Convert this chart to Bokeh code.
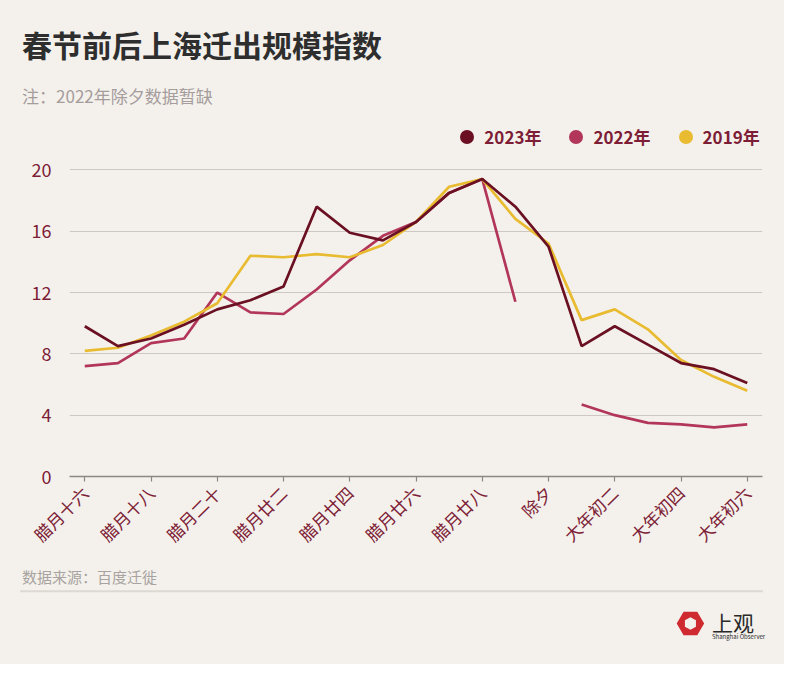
import math
from bokeh.plotting import figure
from bokeh.layouts import column
from bokeh.models import (Range1d, FixedTicker, Label, Legend, LegendItem,
                          PolyAnnotation, BoxAnnotation)
from bokeh.embed import file_html
from bokeh.resources import INLINE

# ---------------- data ----------------
days = ["腊月十六", "腊月十七", "腊月十八", "腊月十九", "腊月二十", "腊月廿一",
        "腊月廿二", "腊月廿三", "腊月廿四", "腊月廿五", "腊月廿六", "腊月廿七",
        "腊月廿八", "腊月廿九", "除夕", "大年初一", "大年初二", "大年初三",
        "大年初四", "大年初五", "大年初六"]
tick_idx = [0, 2, 4, 6, 8, 10, 12, 14, 16, 18, 20]
y_ticks = [0, 4, 8, 12, 16, 20]

v2023 = [9.8, 8.5, 9.0, 9.9, 10.9, 11.5, 12.4, 17.6, 15.9, 15.4, 16.6,
         18.5, 19.4, 17.6, 15.0, 8.5, 9.8, 8.6, 7.4, 7.0, 6.1]
v2022 = [7.2, 7.4, 8.7, 9.0, 12.0, 10.7, 10.6, 12.2, 14.1, 15.7, 16.6,
         18.5, 19.4, 11.4, float("nan"), 4.7, 4.0, 3.5, 3.4, 3.2, 3.4]
v2019 = [8.2, 8.4, 9.2, 10.1, 11.3, 14.4, 14.3, 14.5, 14.3, 15.1, 16.6,
         18.9, 19.4, 16.8, 15.2, 10.2, 10.9, 9.6, 7.6, 6.5, 5.6]
series_names = ["2023年", "2022年", "2019年"]

title_text = "春节前后上海迁出规模指数"
note_text = "注：2022年除夕数据暂缺"
source_text = "数据来源：百度迁徙"

# ---------------- style ----------------
BG = "#f4f1ec"
MAROON = "#7d1d36"
C2023 = "#6a1022"
C2022 = "#b2365a"
C2019 = "#e8bb30"
FONT = "Noto Sans CJK SC"

W, H = 784, 664
SX, SY = W / 800.0, H / 680.0


def fx(rx):
    return rx * SX


def fy(ry):
    return ry * SY


def blank_fig(height):
    f = figure(width=W, height=height, output_backend="svg", toolbar_location=None,
               x_axis_type=None, y_axis_type=None,
               x_range=Range1d(0, W), y_range=Range1d(height, 0),
               min_border=0, min_border_left=0, min_border_right=0,
               min_border_top=0, min_border_bottom=0)
    f.background_fill_color = None
    f.border_fill_color = BG
    f.outline_line_color = None
    f.grid.visible = False
    f.frame_align = False
    return f


H1 = 119
H2 = 444
H3 = H - H1 - H2

# ---------------- header ----------------
head = blank_fig(H1)
head.add_layout(Label(x=fx(22), y=fy(45), text=title_text,
                      text_font=FONT, text_font_size="30px", text_font_style="bold",
                      text_color="#2e2e2e", text_baseline="middle"))
head.add_layout(Label(x=fx(22), y=fy(97), text=note_text,
                      text_font=FONT, text_font_size="17px",
                      text_color="#a59c9c", text_baseline="middle"))

# ---------------- main chart ----------------
BL, BR, BB = 69, 22, 87
frame_w = W - BL - BR
frame_h = H2 - BB
px_per_x = 33.8 * SX
px_per_y = 15.7 * SY
x_start = (BL - fx(86)) / px_per_x
x_end = x_start + frame_w / px_per_x
y_end = frame_h / px_per_y

x = list(range(len(days)))

p = figure(width=W, height=H2, output_backend="svg", toolbar_location=None,
           x_range=Range1d(x_start, x_end), y_range=Range1d(0, y_end),
           min_border_left=BL, min_border_right=BR, min_border_top=0,
           min_border_bottom=BB)
p.background_fill_color = None
p.border_fill_color = BG
p.outline_line_color = None
p.frame_align = False

p.xaxis.ticker = FixedTicker(ticks=tick_idx)
p.xaxis.major_label_overrides = {i: days[i] for i in tick_idx}
p.xaxis.major_label_orientation = math.pi / 4
p.xaxis.major_label_text_font = FONT
p.xaxis.major_label_text_font_size = "17px"
p.xaxis.major_label_text_color = MAROON
p.xaxis.axis_line_color = "#8c8782"
p.xaxis.axis_line_width = 1.5
p.xaxis.major_tick_line_color = "#8c8782"
p.xaxis.major_tick_line_width = 1.2
p.xaxis.major_tick_out = 5
p.xaxis.major_tick_in = 0
p.xaxis.minor_tick_line_color = None
p.xaxis.major_label_standoff = 8

p.yaxis.ticker = FixedTicker(ticks=y_ticks)
p.yaxis.axis_line_color = None
p.yaxis.major_tick_line_color = None
p.yaxis.minor_tick_line_color = None
p.yaxis.major_label_text_font = FONT
p.yaxis.major_label_text_font_size = "18px"
p.yaxis.major_label_text_color = MAROON
p.yaxis.major_label_standoff = 12

p.xgrid.grid_line_color = None
p.ygrid.ticker = FixedTicker(ticks=y_ticks)
p.ygrid.grid_line_color = "#cdc8c2"
p.ygrid.grid_line_width = 1.2

p.line(x, v2022, line_color=C2022, line_width=2.7)
p.line(x, v2019, line_color=C2019, line_width=2.7)
p.line(x, v2023, line_color=C2023, line_width=2.7)

# legend-only circle renderers (a single hidden NaN point each)
nan = float("nan")
r23 = p.scatter(x=[nan], y=[nan], marker="circle", size=14, fill_color=C2023, line_color=None)
r22 = p.scatter(x=[nan], y=[nan], marker="circle", size=14, fill_color=C2022, line_color=None)
r19 = p.scatter(x=[nan], y=[nan], marker="circle", size=14, fill_color=C2019, line_color=None)
legend = Legend(items=[LegendItem(label=series_names[0], renderers=[r23]),
                       LegendItem(label=series_names[1], renderers=[r22]),
                       LegendItem(label=series_names[2], renderers=[r19])],
                orientation="horizontal",
                location=(fx(458.5) - BL, frame_h - (fy(157.5) - H1)),
                glyph_width=35, glyph_height=35, label_standoff=0, spacing=17,
                padding=0, margin=0, border_line_color=None,
                background_fill_alpha=0,
                label_text_font=FONT, label_text_font_size="17px",
                label_text_font_style="bold", label_text_color=MAROON)
p.add_layout(legend, "center")

# ---------------- footer ----------------
foot = blank_fig(H3)
top3 = H1 + H2


def fy3(ry):
    return fy(ry) - top3


foot.add_layout(Label(x=fx(22), y=fy3(590), text=source_text,
                      text_font=FONT, text_font_size="15px",
                      text_color="#a8a3a0", text_baseline="middle"))
foot.add_layout(BoxAnnotation(left=fx(20), right=fx(778), top=fy3(604), bottom=fy3(606),
                              fill_color="#dcd8d3", fill_alpha=1, line_color=None))
cx, cy = 704.0, 638.0
angles_o = [math.radians(a) for a in range(0, 360, 60)]
angles_i = [math.radians(a) for a in range(30, 390, 60)]
foot.add_layout(PolyAnnotation(xs=[fx(cx + 14 * math.cos(a)) for a in angles_o],
                               ys=[fy3(cy + 14 * math.sin(a)) for a in angles_o],
                               fill_color="#cf2a30", fill_alpha=1, line_color=None))
foot.add_layout(PolyAnnotation(xs=[fx(cx + 6.5 * math.cos(a)) for a in angles_i],
                               ys=[fy3(cy + 6.5 * math.sin(a)) for a in angles_i],
                               fill_color=BG, fill_alpha=1, line_color=None))
foot.add_layout(Label(x=fx(726), y=fy3(636), text="上观", text_font=FONT,
                      text_font_size="21px", text_color="#2a2a2a",
                      text_baseline="middle"))
foot.add_layout(Label(x=fx(726), y=fy3(651), text="Shanghai Observer", text_font=FONT,
                      text_font_size="6px", text_color="#2a2a2a",
                      text_baseline="middle"))

layout = column(head, p, foot, spacing=0, styles={"background-color": BG})
open("out.html", "w").write(file_html(layout, INLINE))
